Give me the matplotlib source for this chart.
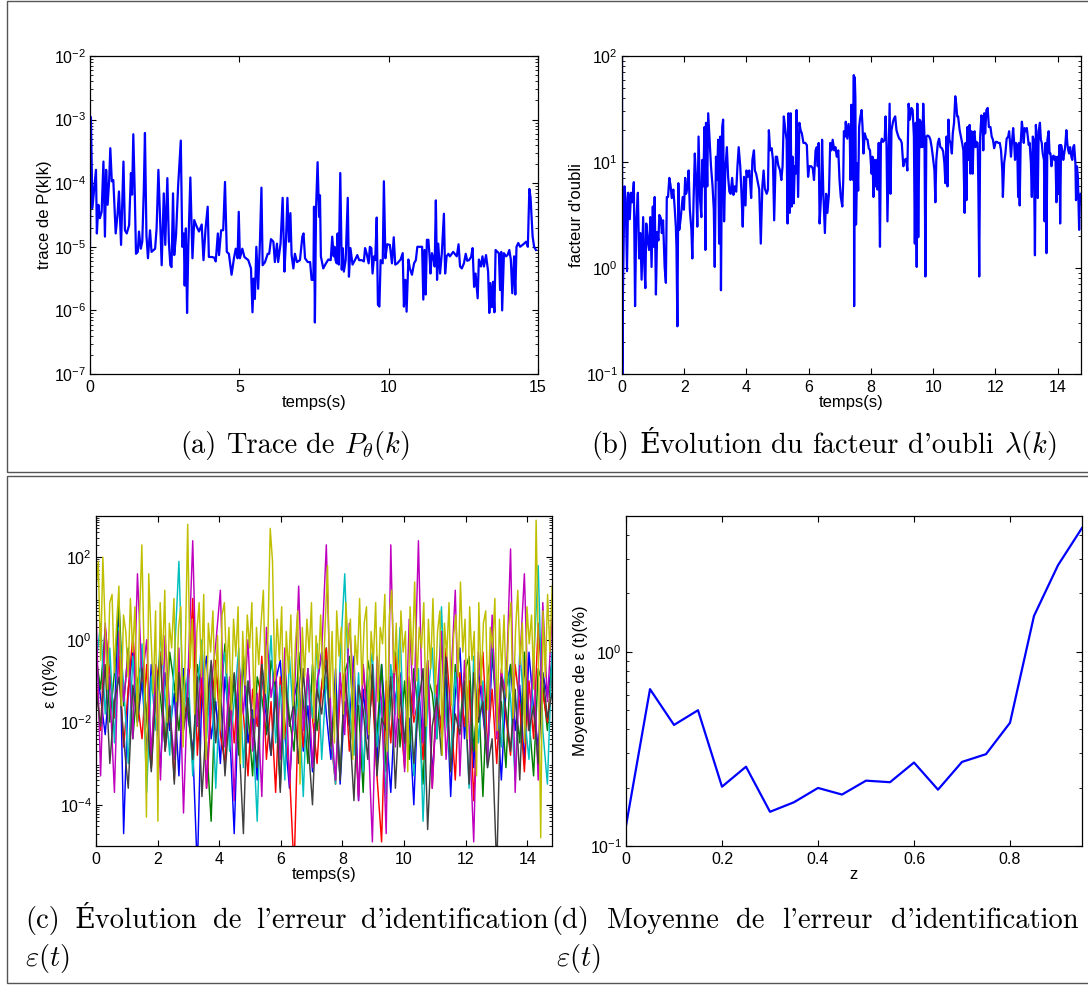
import numpy as np
import matplotlib.pyplot as plt
from matplotlib.patches import Rectangle
from matplotlib.ticker import LogLocator, NullFormatter, LogFormatterMathtext, FixedLocator

W, H = 1088, 985

# (a) trace de P(k|k): time (s) and log10 of the value
ta = [0.00, 0.03, 0.08, 0.15, 0.20, 0.23, 0.28, 0.33, 0.39, 0.45,
      0.50, 0.54, 0.59, 0.64, 0.68, 0.73, 0.78, 0.86, 0.92, 0.97,
      1.04, 1.12, 1.17, 1.23, 1.31, 1.37, 1.41, 1.45, 1.50, 1.54,
      1.60, 1.64, 1.70, 1.75, 1.80, 1.84, 1.89, 1.94, 2.01, 2.06,
      2.18, 2.23, 2.29, 2.34, 2.40, 2.47, 2.52, 2.59, 2.64, 2.69,
      2.73, 2.78, 2.82, 2.88, 2.95, 3.04, 3.09, 3.14, 3.17, 3.21,
      3.25, 3.29, 3.36, 3.43, 3.49, 3.57, 3.65, 3.74, 3.80, 3.87,
      3.94, 3.98, 4.07, 4.16, 4.21, 4.28, 4.32, 4.39, 4.46, 4.52,
      4.58, 4.65, 4.74, 4.82, 4.88, 4.94, 4.98, 5.02, 5.10, 5.17,
      5.30, 5.39, 5.44, 5.48, 5.52, 5.57, 5.63, 5.69, 5.74, 5.78,
      5.86, 5.95, 6.00, 6.06, 6.14, 6.19, 6.26, 6.30, 6.38, 6.45,
      6.51, 6.56, 6.61, 6.66, 6.71, 6.75, 6.81, 6.86, 6.93, 7.03,
      7.11, 7.15, 7.20, 7.29, 7.37, 7.42, 7.48, 7.50, 7.53, 7.57,
      7.62, 7.67, 7.70, 7.73, 7.81, 7.90, 7.98, 8.06, 8.11, 8.16,
      8.19, 8.22, 8.26, 8.29, 8.33, 8.38, 8.43, 8.46, 8.50, 8.56,
      8.63, 8.67, 8.72, 8.79, 8.87, 8.95, 9.01, 9.10, 9.17, 9.21,
      9.26, 9.33, 9.37, 9.42, 9.46, 9.51, 9.55, 9.60, 9.64, 9.69,
      9.73, 9.80, 9.84, 9.89, 9.95, 10.04, 10.11, 10.17, 10.22, 10.29,
      10.40, 10.47, 10.51, 10.56, 10.60, 10.66, 10.71, 10.78, 10.85, 10.91,
      10.96, 11.05, 11.12, 11.16, 11.20, 11.24, 11.28, 11.33, 11.37, 11.40,
      11.45, 11.51, 11.54, 11.58, 11.62, 11.66, 11.72, 11.78, 11.85, 11.89,
      11.94, 12.00, 12.05, 12.16, 12.28, 12.34, 12.39, 12.45, 12.52, 12.58,
      12.63, 12.69, 12.76, 12.81, 12.86, 12.91, 12.98, 13.02, 13.09, 13.14,
      13.19, 13.26, 13.33, 13.37, 13.41, 13.46, 13.50, 13.54, 13.58, 13.64,
      13.69, 13.73, 13.77, 13.80, 13.86, 13.93, 13.98, 14.04, 14.09, 14.14,
      14.20, 14.24, 14.28, 14.34, 14.40, 14.51, 14.60, 14.66, 14.71, 14.75,
      14.82, 14.87, 14.93]
la = [-5.0, -2.96, -4.39, -4.03, -3.79, -4.79, -4.34, -4.55, -4.45, -3.66,
      -4.84, -3.79, -4.34, -3.97, -3.45, -3.97, -3.95, -4.79, -4.50, -4.13,
      -4.97, -3.66, -4.74, -4.79, -4.66, -3.84, -4.18, -3.23, -4.18, -5.11,
      -5.08, -4.76, -5.03, -4.92, -4.13, -3.21, -4.82, -5.18, -4.74, -5.08,
      -5.03, -4.71, -3.79, -4.45, -5.29, -4.16, -4.97, -3.92, -4.92, -5.29,
      -5.32, -4.16, -5.13, -4.82, -4.05, -3.33, -5.00, -4.79, -5.61, -4.71,
      -6.04, -5.03, -3.91, -5.18, -4.58, -4.68, -4.76, -4.65, -5.21, -4.71,
      -4.37, -5.16, -5.16, -5.17, -5.23, -4.79, -5.13, -4.74, -4.74, -3.98,
      -5.08, -5.11, -5.44, -5.18, -5.03, -5.18, -4.45, -5.18, -5.03, -5.16,
      -5.21, -5.34, -6.03, -5.50, -5.82, -5.00, -5.66, -4.92, -4.07, -5.29,
      -5.24, -5.11, -5.11, -4.88, -4.92, -5.24, -4.95, -5.24, -4.95, -4.23,
      -5.39, -4.92, -4.23, -4.92, -4.47, -5.13, -5.34, -5.11, -5.24, -5.21,
      -4.84, -4.79, -5.18, -5.24, -5.24, -5.52, -5.52, -4.37, -6.19, -4.37,
      -3.67, -4.53, -4.19, -5.15, -5.34, -5.26, -5.20, -5.21, -4.84, -5.15,
      -5.00, -5.21, -5.26, -4.79, -5.28, -3.84, -5.36, -5.02, -5.39, -5.21,
      -4.23, -5.47, -5.02, -5.28, -5.21, -5.13, -5.21, -5.21, -5.23, -5.02,
      -5.10, -5.26, -5.00, -5.02, -5.42, -5.15, -5.21, -4.54, -5.91, -5.94,
      -5.21, -5.26, -3.97, -5.18, -4.96, -4.97, -5.26, -4.85, -5.28, -5.26,
      -5.20, -5.10, -5.94, -5.52, -6.02, -5.20, -5.34, -5.44, -5.26, -5.21,
      -5.00, -5.00, -5.00, -5.83, -5.05, -5.75, -4.89, -4.89, -5.15, -5.42,
      -5.10, -5.21, -5.31, -4.27, -5.52, -4.95, -5.42, -5.10, -4.48, -5.42,
      -5.15, -5.11, -5.15, -5.08, -5.15, -4.96, -5.31, -5.34, -5.26, -5.11,
      -5.22, -5.21, -5.16, -5.02, -5.63, -5.42, -5.81, -5.20, -5.31, -5.15,
      -5.31, -5.13, -5.39, -6.04, -5.57, -5.95, -5.55, -6.03, -5.05, -5.08,
      -5.10, -5.68, -5.08, -6.00, -5.10, -5.15, -5.13, -5.05, -5.20, -5.73,
      -5.15, -5.75, -5.00, -4.94, -5.00, -4.96, -4.92, -5.00, -4.09, -4.22,
      -4.84, -5.00, -5.05]

# (b) facteur d'oubli: time (s) and log10 of the value
tb = [0.00, 0.01, 0.03, 0.08, 0.12, 0.16, 0.20, 0.25, 0.29, 0.33,
      0.38, 0.42, 0.46, 0.51, 0.55, 0.59, 0.63, 0.68, 0.72, 0.75,
      0.78, 0.83, 0.87, 0.91, 0.95, 0.99, 1.02, 1.05, 1.09, 1.13,
      1.17, 1.20, 1.25, 1.28, 1.32, 1.37, 1.41, 1.44, 1.48, 1.52,
      1.56, 1.60, 1.65, 1.69, 1.73, 1.75, 1.78, 1.81, 1.84, 1.88,
      1.92, 1.95, 1.99, 2.03, 2.06, 2.11, 2.14, 2.18, 2.23, 2.26,
      2.30, 2.34, 2.38, 2.42, 2.46, 2.51, 2.55, 2.58, 2.61, 2.65,
      2.68, 2.70, 2.74, 2.77, 2.82, 2.86, 2.91, 2.95, 2.98, 3.02,
      3.05, 3.09, 3.12, 3.16, 3.18, 3.22, 3.25, 3.28, 3.32, 3.37,
      3.41, 3.45, 3.49, 3.54, 3.58, 3.62, 3.67, 3.71, 3.75, 3.80,
      3.84, 3.88, 3.92, 3.97, 4.00, 4.04, 4.09, 4.12, 4.15, 4.19,
      4.24, 4.27, 4.31, 4.35, 4.41, 4.46, 4.51, 4.55, 4.59, 4.65,
      4.69, 4.72, 4.76, 4.81, 4.85, 4.89, 4.94, 4.98, 5.02, 5.08,
      5.12, 5.16, 5.20, 5.25, 5.29, 5.32, 5.35, 5.39, 5.42, 5.45,
      5.48, 5.52, 5.55, 5.58, 5.61, 5.66, 5.70, 5.74, 5.78, 5.83,
      5.89, 5.94, 5.98, 6.02, 6.08, 6.13, 6.17, 6.22, 6.26, 6.29,
      6.32, 6.35, 6.40, 6.43, 6.47, 6.52, 6.56, 6.60, 6.65, 6.69,
      6.73, 6.77, 6.82, 6.86, 6.90, 6.95, 6.99, 7.03, 7.08, 7.11,
      7.13, 7.17, 7.19, 7.24, 7.28, 7.32, 7.34, 7.37, 7.41, 7.43,
      7.45, 7.46, 7.48, 7.50, 7.52, 7.56, 7.59, 7.62, 7.65, 7.70,
      7.73, 7.76, 7.80, 7.85, 7.89, 7.93, 7.97, 8.02, 8.05, 8.08,
      8.11, 8.15, 8.18, 8.21, 8.25, 8.29, 8.32, 8.35, 8.39, 8.44,
      8.47, 8.50, 8.53, 8.57, 8.60, 8.63, 8.66, 8.71, 8.74, 8.78,
      8.82, 8.87, 8.91, 8.95, 8.99, 9.04, 9.08, 9.13, 9.17, 9.21,
      9.25, 9.30, 9.34, 9.38, 9.41, 9.44, 9.47, 9.49, 9.52, 9.56,
      9.59, 9.62, 9.65, 9.68, 9.72, 9.75, 9.78, 9.82, 9.87, 9.91,
      9.95, 9.99, 10.04, 10.07, 10.10, 10.15, 10.19, 10.23, 10.28, 10.32,
      10.36, 10.39, 10.43, 10.46, 10.49, 10.52, 10.56, 10.60, 10.63, 10.67,
      10.71, 10.74, 10.77, 10.80, 10.85, 10.89, 10.93, 10.97, 11.01, 11.04,
      11.07, 11.10, 11.14, 11.17, 11.20, 11.23, 11.27, 11.30, 11.33, 11.36,
      11.39, 11.43, 11.45, 11.48, 11.51, 11.55, 11.58, 11.61, 11.64, 11.67,
      11.71, 11.75, 11.79, 11.84, 11.88, 11.92, 11.96, 12.01, 12.05, 12.09,
      12.14, 12.18, 12.22, 12.24, 12.28, 12.32, 12.36, 12.41, 12.44, 12.47,
      12.50, 12.53, 12.57, 12.60, 12.63, 12.66, 12.70, 12.73, 12.76, 12.78,
      12.81, 12.85, 12.88, 12.91, 12.94, 12.98, 13.01, 13.04, 13.07, 13.10,
      13.14, 13.17, 13.20, 13.23, 13.27, 13.30, 13.33, 13.36, 13.39, 13.43,
      13.46, 13.49, 13.52, 13.56, 13.58, 13.61, 13.64, 13.67, 13.71, 13.74,
      13.77, 13.80, 13.84, 13.87, 13.90, 13.93, 13.96, 14.00, 14.03, 14.06,
      14.08, 14.11, 14.15, 14.18, 14.21, 14.24, 14.28, 14.31, 14.34, 14.37,
      14.40, 14.44, 14.47, 14.50, 14.53, 14.57, 14.59, 14.62, 14.65, 14.69,
      14.71, 14.74]
lb = [2.1, -1.1, -0.24, 0.77, 0.65, -0.03, 0.71, 0.46, 0.71, 0.62,
      0.81, -0.36, 0.45, 0.71, 0.09, 0.33, -0.11, 0.48, 0.01, -0.19,
      0.42, 0.25, 0.17, 0.48, 0.01, 0.58, 0.20, 0.67, -0.25, 0.34,
      0.26, 0.50, 0.47, 0.33, 0.45, 0.01, -0.14, 0.67, 0.67, 0.85,
      0.78, 0.66, 0.74, 0.58, 0.39, 0.20, -0.55, 0.80, 0.36, 0.45,
      0.58, 0.67, 0.55, 0.85, 0.70, 0.77, 0.92, 0.55, 0.36, 0.09,
      0.64, 1.08, 0.83, 0.39, 1.24, 0.64, 0.48, 1.02, 0.77, 1.33,
      0.17, 1.37, 0.77, 1.46, 1.18, 0.96, 0.77, 0.55, 0.01, 1.05,
      0.83, 1.21, 0.23, 1.24, -0.21, 1.33, 1.40, 0.44, 0.92, 1.14,
      0.86, 0.72, 0.70, 0.85, 0.69, 0.77, 0.72, 0.96, 1.14, 0.96,
      0.70, 0.39, 0.86, 0.59, 0.92, 0.86, 0.92, 0.80, 0.66, 1.02,
      1.11, 0.92, 0.89, 0.83, 0.74, 0.23, 0.77, 0.92, 0.75, 0.70,
      0.74, 1.30, 1.11, 1.13, 1.02, 0.45, 1.05, 1.05, 0.97, 0.92,
      0.83, 0.96, 1.43, 1.30, 1.21, 0.42, 1.46, 0.52, 1.46, 0.58,
      1.05, 0.61, 0.96, 0.89, 1.49, 0.67, 1.37, 1.30, 1.27, 1.18,
      1.18, 1.16, 0.86, 0.96, 0.96, 0.94, 0.83, 1.11, 1.14, 0.96,
      1.18, 0.42, 0.70, 1.21, 0.70, 0.33, 0.70, 0.52, 0.70, 1.18,
      1.11, 1.21, 1.11, 1.14, 1.05, 1.11, 0.83, 0.67, 0.58, 0.83,
      1.29, 1.24, 1.38, 1.22, 1.36, 1.25, 0.83, 1.54, 1.19, 0.83,
      1.82, -0.36, 1.80, 1.60, 0.41, 0.99, 0.73, 1.33, 1.41, 1.49,
      1.33, 1.08, 1.27, 1.22, 1.21, 1.13, 1.11, 0.89, 1.05, 0.67,
      1.02, 0.77, 1.02, 0.74, 1.18, 0.20, 1.18, 1.22, 1.19, 1.21,
      1.43, 1.16, 0.44, 1.05, 1.55, 0.70, 1.30, 1.38, 1.41, 1.43,
      1.30, 1.25, 1.22, 1.21, 1.18, 0.96, 1.02, 1.03, 0.92, 1.55,
      1.40, 1.51, 1.49, 1.24, 0.23, 1.37, 0.01, 1.55, 0.29, 1.40,
      1.14, 1.38, 1.14, 1.55, 1.24, -0.08, 1.24, 1.25, 1.24, 1.21,
      1.14, 1.05, 0.92, 0.62, 1.02, 1.18, 1.22, 1.14, 1.13, 1.10,
      0.99, 0.80, 1.24, 0.77, 1.40, 1.21, 1.18, 1.08, 1.27, 1.37,
      1.62, 1.55, 1.43, 1.43, 1.30, 1.24, 1.18, 1.11, 0.52, 1.18,
      0.64, 1.33, 1.02, 1.35, 0.89, 1.29, 0.89, 1.27, 1.29, 1.14,
      1.19, 1.18, 0.80, -0.08, 1.24, 1.44, 1.40, 1.11, 1.46, 1.27,
      1.49, 1.51, 1.33, 1.33, 1.24, 1.21, 1.13, 1.19, 1.19, 1.18,
      1.18, 1.11, 0.92, 0.67, 0.99, 1.08, 1.22, 1.24, 1.29, 1.18,
      1.05, 1.18, 1.32, 1.19, 1.02, 1.18, 1.16, 0.67, 1.18, 0.59,
      1.16, 1.38, 1.30, 1.18, 1.32, 1.29, 1.32, 1.24, 1.16, 1.18,
      0.99, 0.67, 1.24, 1.21, 0.12, 1.35, 1.18, 0.66, 1.29, 1.37,
      1.21, 1.18, 1.08, 1.02, 0.44, 1.18, 0.14, 1.21, 1.29, 1.08,
      1.08, 0.96, 1.05, 1.06, 1.02, 1.05, 0.62, 1.05, 0.70, 1.16,
      0.42, 1.16, 1.10, 1.02, 1.08, 1.14, 1.30, 1.18, 1.11, 1.08,
      1.14, 1.05, 1.02, 1.14, 1.16, 0.99, 0.64, 0.96, 0.86, 0.36,
      0.61, 0.70]

# (c) identification error, log10 of each curve
dt_c = 0.1495      # sampling of the blue/green/red/cyan/magenta/grey curves
dt_y = 0.0744      # sampling of the yellow curve
err_b = [-0.5, -1.4, -2.3, -0.9, -1.8, 0.9, -4.7, -1.2, -0.3, -2.0,
         -1.0, -2.7, -0.6, -1.6, -3.1, -0.8, -2.2, -1.3, -3.3, -0.7,
         -1.9, -2.6, -5.6, -1.1, -0.4, -2.4, -1.5, -3.0, -0.9, -2.1,
         -4.7, -1.3, -0.6, -2.5, -1.7, -3.4, -0.8, -1.9, -2.8, -1.0,
         -0.5, -2.3, -3.6, -1.4, -0.9, -2.7, -1.6, -3.2, -1.1, -0.3,
         -1.8, -2.9, -0.7, -3.5, -1.5, -2.1, -0.4, -3.9, -1.2, -2.4,
         -1.0, -3.0, -0.6, -2.2, -3.7, -1.4, -0.8, -2.6, -1.9, -4.0,
         -1.1, -2.5, -0.5, -3.3, -1.6, -2.0, -0.9, -3.8, -1.3, -0.2,
         -2.4, -1.0, -3.1, -0.7, -1.8, -2.9, -0.4, -1.5, -3.4, -1.2,
         -0.6, -2.2, -1.1, -3.0, -0.3, -1.7, -2.6, -0.8, -1.4, -0.5]
err_g = [-0.4, -1.2, 0.3, -2.0, -0.8, 0.9, -1.6, -0.2, -2.4, -1.0,
         -0.5, -1.9, -3.1, -0.7, -1.4, -2.6, -0.3, -1.1, -2.2, -0.9,
         -1.7, -3.0, -0.6, -1.3, -2.5, -4.4, -0.8, -1.5, -0.1, -2.1,
         -1.0, -2.8, -0.4, -1.8, -3.3, -0.9, -1.4, -2.3, -0.5, -1.2,
         -3.6, -0.7, -1.9, -2.7, -0.3, -1.5, -3.0, -0.6, -2.2, -1.1,
         -0.2, -2.5, -1.3, -3.4, -0.8, -0.4, -2.0, -1.6, -3.7, -0.5,
         -1.1, -2.3, -0.6, -3.2, -1.4, -0.3, -2.6, -1.0, -2.9, -0.7,
         -1.8, -3.5, -0.9, -1.3, -2.4, -0.1, -1.7, -3.0, -0.6, -2.1,
         -0.8, -0.4, -2.7, -1.2, -3.8, -0.9, -0.2, -2.0, -1.5, -3.1,
         -0.6, -1.4, -2.5, -0.3, -1.9, -3.3, -0.7, -1.1, -2.2, -0.4]
err_r = [-1.0, -2.2, 0.3, -0.8, -1.9, -0.4, -2.6, -1.2, 0.1, -1.5,
         -2.4, -0.6, -3.1, -1.1, -0.3, -2.7, -1.6, -3.4, -0.7, -2.0,
         -1.3, 1.0, -2.8, -0.9, -3.6, -1.7, -0.5, -2.3, -3.0, -1.0,
         -2.5, -0.8, -1.8, -3.3, -1.2, -2.1, -0.4, -2.9, -1.5, -3.7,
         -0.9, -2.0, -3.2, -5.6, -1.4, -2.6, -0.7, -1.9, -3.0, -1.1,
         -0.2, -2.4, -3.5, -1.3, -0.8, -2.7, -1.6, -3.8, -0.6, -2.2,
         -1.2, -3.3, -4.9, -1.0, -2.5, -0.4, -1.8, -3.1, -0.9, -2.0,
         -1.4, -2.9, -0.5, -3.6, -1.1, -2.3, -0.2, -1.7, -3.4, -0.8,
         -2.1, -1.0, -3.9, -1.5, -0.3, -2.6, -1.2, -3.0, -0.7, -1.9,
         -2.8, -0.6, -1.6, -3.2, -1.0, -2.4, 0.4, -1.3, -2.0, -0.9]
err_c = [-0.6, 0.4, -1.8, -0.2, -2.5, 0.3, -1.1, -3.0, -0.4, -1.6,
         -0.1, -3.7, -0.9, -2.2, 0.2, -1.4, -2.8, -0.5, 1.9, -1.9,
         -0.7, -3.3, -1.2, 0.0, -2.4, -0.8, -3.6, -1.0, -0.3, -2.7,
         -1.5, -0.2, -3.1, -1.0, -2.0, -4.4, -0.6, -1.7, 0.1, -2.5,
         -1.1, -3.4, -0.4, -2.2, -1.3, -3.8, -0.7, -1.9, -0.1, -2.9,
         -0.9, -2.3, -3.5, -0.5, 1.6, -1.6, -2.8, -0.8, -3.2, -1.2,
         -0.3, -2.6, -1.4, -3.9, -0.6, -1.8, 0.3, -2.9, -1.0, -3.3,
         -0.7, -4.4, -1.5, -0.2, -2.4, 0.8, -1.9, -3.0, -0.8, -2.1,
         -1.2, -3.6, -0.4, -2.5, -1.0, -3.1, 0.2, -1.7, -2.6, -0.5,
         -1.4, -3.4, -0.2, -1.8, -2.9, -0.6, 1.8, -2.2, -3.5, -0.3]
err_m = [0.8, -3.3, 0.4, -1.2, -3.7, 0.2, -1.5, -0.3, -2.4, 1.6,
         -1.0, 0.0, -2.8, -0.6, -3.4, 0.1, -1.7, -2.9, -0.2, -4.2,
         -0.8, 2.4, -2.1, -0.4, -3.6, -1.1, -0.1, 1.2, -2.6, -0.9,
         -3.9, -0.5, -1.8, 0.0, -2.7, -1.3, -3.8, 0.3, -1.4, -0.6,
         -2.9, -0.2, -3.5, -1.6, 1.3, -2.2, -0.7, -3.1, -1.0, -0.3,
         2.3, -1.9, -3.4, -0.8, -2.3, 0.4, -1.2, -3.9, -0.6, -2.0,
         -4.9, -0.4, -1.5, -4.7, 2.3, -2.6, -0.9, -3.2, 0.5, -1.8,
         2.4, -2.5, -0.7, -3.6, -1.4, 0.2, -2.9, -1.1, 1.2, -3.3,
         -0.5, -2.1, -4.9, -0.3, -1.6, -3.0, 0.6, -2.4, -0.8, -1.3,
         2.2, -3.7, -0.6, 1.6, -2.2, -0.4, -3.4, 0.9, -1.5, 0.5]
err_k = [-1.2, -2.1, -0.6, -3.0, -1.5, -0.9, -2.4, -3.6, -1.1, -2.0,
         -0.7, -1.8, -3.2, -1.3, -0.4, -2.7, -1.6, -3.5, -0.8, -2.2,
         -1.4, -2.9, -0.9, -3.8, -1.9, -0.5, -2.5, -1.2, -3.3, -1.7,
         -0.8, -2.3, -4.7, -1.0, -2.0, -3.1, -0.6, -1.6, -2.8, -1.3,
         -3.7, -0.9, -2.1, -1.5, -3.0, -0.7, -2.4, -4.0, -1.2, -1.8,
         -0.5, -2.6, -1.4, -3.4, -0.8, -2.0, -3.9, -1.1, -1.7, -2.9,
         -0.6, -3.3, -1.9, -2.2, -0.9, -3.6, -1.3, -2.5, -1.0, -3.0,
         -1.6, -0.7, -4.6, -2.1, -1.4, -2.8, -0.4, -3.2, -1.8, -2.3,
         -1.0, -3.5, -0.8, -2.0, -1.5, -3.1, -2.4, -5.6, -0.9, -1.7,
         -2.7, -1.2, -3.4, -0.5, -2.2, -1.6, -3.0, -0.8, -1.9, -1.3]
err_y = [1.2, 1.9, -0.5, 2.0, 0.3, -1.2, 0.9, 1.1, -0.8, 0.4,
         1.3, -1.6, 0.6, 0.2, -0.9, 1.0, -0.3, 0.8, -2.1, 0.5,
         2.3, -0.4, -4.3, 1.6, 0.1, -1.3, 0.7, -4.4, 0.9, -0.6,
         1.2, -2.0, 0.4, -0.2, 1.0, -1.5, 0.3, 0.8, -2.6, -0.1,
         2.8, -0.7, 0.5, -1.8, 0.2, 0.9, -0.9, 1.1, -2.9, 0.4,
         -0.3, 0.7, -1.4, 0.1, -2.2, 0.6, 0.9, -0.8, 0.3, -1.7,
         0.5, -0.4, 0.8, -3.0, 0.2, -1.1, 0.6, -0.2, 0.9, -1.9,
         0.3, -0.6, 0.4, 1.2, -1.3, 0.1, 2.7, 1.9, -1.0, 0.5,
         -0.5, 0.8, -2.4, 0.2, -0.8, 0.6, -1.6, -0.1, 0.7, -3.5,
         0.3, -0.9, 0.5, -0.3, 0.9, -2.0, 0.1, -0.7, 0.6, -1.2,
         0.4, 1.8, -1.4, 0.2, -2.5, 0.7, -0.4, 0.3, -1.8, 0.9,
         -0.2, 0.5, -2.9, 0.1, -0.6, 1.0, -1.1, 0.4, 0.8, -2.3,
         0.2, -0.5, 0.9, -1.5, 0.3, -0.1, 1.1, -2.7, 0.6, 1.2,
         -0.8, 0.4, -1.9, 0.7, -0.3, 0.2, -3.2, 0.8, -0.6, 1.4,
         -1.0, 0.3, -0.2, 0.9, -2.1, 0.5, -0.7, 1.0, -1.3, 0.2,
         0.7, -2.8, 0.4, -0.4, 0.9, -1.6, 0.1, 0.6, -0.9, 1.4,
         -0.3, 0.5, -2.4, 0.8, -0.5, 0.2, -3.3, 0.9, -1.1, 0.4,
         0.7, -1.7, 0.3, -0.2, 1.0, -2.2, 0.5, -0.8, 0.6, -1.4,
         0.3, 0.9, -1.9, 0.2, 1.2, -0.6, 0.4, -2.5, 0.8, -0.1,
         0.6, -1.2, 2.9, -0.4, -4.8, 0.7, -0.9, 1.1, -0.3, 1.3]

# (d) mean identification error vs z
z_d = [0.00, 0.05, 0.10, 0.15, 0.20, 0.25, 0.30, 0.35, 0.40, 0.45,
       0.50, 0.55, 0.60, 0.65, 0.70, 0.75, 0.80, 0.85, 0.90, 0.95]
moy_d = [0.127, 0.642, 0.42, 0.50, 0.202, 0.256, 0.150, 0.168, 0.199, 0.184,
         0.217, 0.213, 0.269, 0.195, 0.271, 0.297, 0.431, 1.53, 2.79, 4.34]

# ---- style ----
plt.rcParams["font.family"] = ["Liberation Sans", "DejaVu Sans"]
plt.rcParams["mathtext.fontset"] = "custom"
plt.rcParams["mathtext.rm"] = "Liberation Sans"
plt.rcParams["mathtext.it"] = "Liberation Sans:italic"
plt.rcParams["mathtext.bf"] = "Liberation Sans:bold"
plt.rcParams["axes.linewidth"] = 0.9
plt.rcParams["xtick.direction"] = "in"
plt.rcParams["ytick.direction"] = "in"
plt.rcParams["xtick.top"] = True
plt.rcParams["ytick.right"] = True
plt.rcParams["xtick.major.size"] = 4
plt.rcParams["ytick.major.size"] = 4
plt.rcParams["ytick.minor.size"] = 2
plt.rcParams["xtick.major.pad"] = 4
plt.rcParams["ytick.major.pad"] = 3
plt.rcParams["xtick.labelsize"] = 11.5
plt.rcParams["ytick.labelsize"] = 11.5
plt.rcParams["axes.labelsize"] = 12

fig = plt.figure(figsize=(W / 100, H / 100), dpi=100)


def add_box(l, t, r, b):
    return fig.add_axes([l / W, 1 - b / H, (r - l) / W, (b - t) / H])


def log_y(ax, lo, hi, major=None):
    ax.set_yscale("log")
    ax.set_ylim(lo, hi)
    if major is not None:
        ax.yaxis.set_major_locator(FixedLocator(major))
    ax.yaxis.set_major_formatter(LogFormatterMathtext())
    ax.yaxis.set_minor_locator(LogLocator(base=10, subs=np.arange(2, 10), numticks=30))
    ax.yaxis.set_minor_formatter(NullFormatter())


blue = "#0000ff"

# (a)
ax = add_box(90, 56, 538, 374)
ax.plot(ta, 10 ** np.array(la), color=blue, lw=1.6)
ax.set_xlim(0, 15)
ax.set_xticks([0, 5, 10, 15])
log_y(ax, 1e-7, 1e-2)
ax.set_xlabel("temps(s)", labelpad=0)
ax.set_ylabel("trace de P(k|k)", labelpad=1)

# (b)
ax = add_box(622, 56, 1081, 374)
ax.plot(tb, 10 ** np.array(lb), color=blue, lw=1.6)
ax.set_xlim(0, 14.75)
ax.set_xticks(range(0, 15, 2))
log_y(ax, 1e-1, 1e2)
ax.set_xlabel("temps(s)", labelpad=0)
ax.set_ylabel("facteur d'oubli", labelpad=1)

# (c)
ax = add_box(96, 516, 552, 846)
t_c = np.arange(len(err_b)) * dt_c
t_y = np.arange(len(err_y)) * dt_y
for tt, vals, col in [(t_c, err_b, "#0000ff"), (t_c, err_g, "#008000"),
                      (t_c, err_r, "#ff0000"), (t_c, err_c, "#00bfbf"),
                      (t_c, err_m, "#bf00bf"), (t_c, err_k, "#404040"),
                      (t_y, err_y, "#bfbf00")]:
    ax.plot(tt, 10 ** np.array(vals), color=col, lw=1.05)
ax.set_xlim(0, 14.8)
ax.set_xticks(range(0, 15, 2))
log_y(ax, 1e-5, 1e3, major=[1e-4, 1e-2, 1e0, 1e2])
ax.set_xlabel("temps(s)", labelpad=0)
ax.set_ylabel("ε (t)(%)", labelpad=1)

# (d)
ax = add_box(626, 516, 1082, 846)
ax.plot(z_d, moy_d, color=blue, lw=1.6)
ax.set_xlim(0, 0.95)
ax.set_xticks([0, 0.2, 0.4, 0.6, 0.8])
ax.set_xticklabels(["0", "0.2", "0.4", "0.6", "0.8"])
log_y(ax, 1e-1, 5.0, major=[1e-1, 1e0])
ax.set_xlabel("z", labelpad=0)
ax.set_ylabel("Moyenne de ε (t)(%)", labelpad=1)

# ---- frames ----
for top, bot in [(1, 472), (476, 983)]:
    fig.add_artist(Rectangle((7 / W, 1 - bot / H), 1.2, (bot - top) / H,
                             transform=fig.transFigure, fill=False,
                             ec="#555555", lw=1.0))

# ---- captions (LaTeX-like, word by word) ----
cap = dict(family=["cmr10", "DejaVu Serif"], math_fontfamily="cm", fontsize=20.5,
           va="baseline", ha="left")
space = 9.5


def caption_row(words, y, x0=None, x1=None, center=None):
    items = [fig.text(0, 1 - y / H, w, **cap) for w in words]
    rend = fig.canvas.get_renderer()
    widths = [it.get_window_extent(rend).width for it in items]
    if center is not None:
        gap = space
        x0 = center - (sum(widths) + gap * (len(words) - 1)) / 2
    else:
        gap = (x1 - x0 - sum(widths)) / (len(words) - 1)
    x = x0
    for it, w in zip(items, widths):
        it.set_x(x / W)
        x += w + gap


caption_row(["(a)", "Trace", "de", r"$P_\theta(k)$"], 453, center=295)
caption_row(["(b)", "Évolution", "du", "facteur", "d'oubli", r"$\lambda(k)$"], 453, center=824)
caption_row(["(c)", "Évolution", "de", "l'erreur", "d'identification"], 928, 25, 549)
caption_row(["(d)", "Moyenne", "de", "l'erreur", "d'identification"], 928, 551, 1078)
fig.text(25 / W, 1 - 966 / H, r"$\varepsilon(t)$", **cap)
fig.text(556 / W, 1 - 966 / H, r"$\varepsilon(t)$", **cap)

fig.savefig("out.png", dpi=100)
